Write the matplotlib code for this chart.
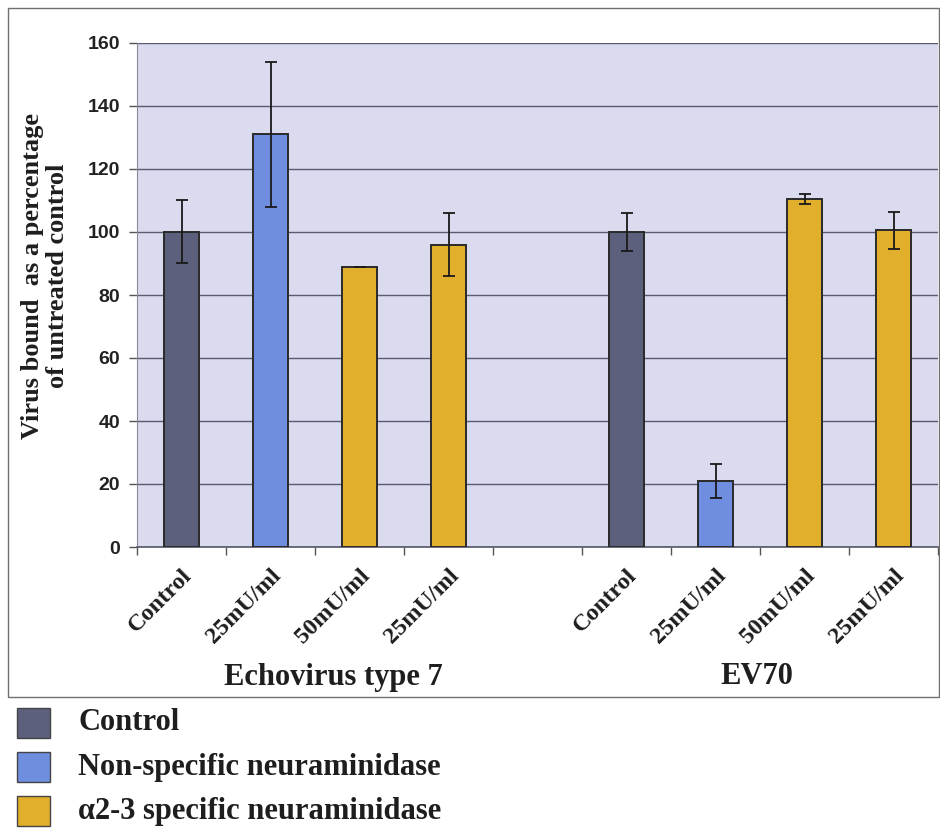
import matplotlib
matplotlib.use("Agg")
import matplotlib.pyplot as plt
from matplotlib.patches import Rectangle
import numpy as np

# Data
groups = ["Echovirus type 7", "EV70"]
categories = ["Control", "25mU/ml", "50mU/ml", "25mU/ml"]
treatments = ["Control", "Non-specific neuraminidase", "\u03b12-3 specific neuraminidase"]
treatment_of_bar = [0, 1, 2, 2]
echo_values = [100, 131, 89, 96]
echo_errors = [10, 23, 0, 10]
ev70_values = [100, 21, 110.5, 100.5]
ev70_errors = [6, 5.3, 1.5, 6]
y_ticks = [0, 20, 40, 60, 80, 100, 120, 140, 160]

colors = ["#5c607d", "#6f8ee0", "#e2af2c"]
bg = "#dadbef"
grid_col = "#5a5a72"

serif = ["Liberation Serif", "DejaVu Serif"]
sans = ["Liberation Sans", "DejaVu Sans"]
txt_col = "#1e1e1e"

W, H = 940, 834
fig = plt.figure(figsize=(W / 100, H / 100), dpi=100)

# outer chart frame
fig.patches.append(Rectangle((8 / W, 137 / H), 931 / W, 689 / H,
                             transform=fig.transFigure, fill=False,
                             edgecolor="#707070", linewidth=1.0))

ax = fig.add_axes([137 / W, 287 / H, 801 / W, 504 / H])
ax.set_facecolor(bg)

slot_pos = [0, 1, 2, 3, 5, 6, 7, 8]
values = echo_values + ev70_values
errors = echo_errors + ev70_errors
bar_cols = [colors[t] for t in treatment_of_bar] * 2
labels = categories * 2

ax.bar(slot_pos, values, width=0.4, color=bar_cols, edgecolor="#2a2a2a",
       linewidth=1.4, zorder=3)
ax.errorbar(slot_pos, values, yerr=errors, fmt="none", ecolor="#1a1a1a",
            elinewidth=1.3, capsize=4.5, capthick=1.3, zorder=4)

ax.set_xlim(-0.5, 8.5)
ax.set_ylim(0, 160)
ax.set_yticks(y_ticks)
ax.set_yticklabels([str(v) for v in y_ticks], fontfamily=sans,
                   fontweight="bold", fontsize=14, color="#222222")
ax.yaxis.grid(True, color=grid_col, linewidth=1.0, zorder=1)
ax.set_axisbelow(True)

ax.set_xticks(slot_pos)
ax.set_xticklabels(labels, rotation=45, ha="right", rotation_mode="anchor",
                   fontfamily=serif, fontweight="bold", fontsize=17.5,
                   color=txt_col)
ax.tick_params(axis="x", length=0, pad=13)
ax.set_xticks(np.arange(-0.5, 9.0, 1.0), minor=True)
ax.tick_params(axis="x", which="minor", length=6, color="#555555", width=1)
ax.tick_params(axis="y", length=6, color="#555555", width=1, pad=6)

for s in ["top", "right"]:
    ax.spines[s].set_visible(False)
ax.spines["left"].set_color("#8a8a9a")
ax.spines["bottom"].set_color("#555566")
ax.spines["bottom"].set_linewidth(1.2)

# y-axis title
fig.text(45 / W, 1 - 276 / H,
         "Virus bound  as a percentage\nof untreated control",
         rotation=90, ha="center", va="center", multialignment="center",
         fontfamily=serif, fontweight="bold", fontsize=19, color=txt_col,
         linespacing=1.08)

# group captions under the category labels
ax.text(333 / W, 1 - 677 / H, groups[0], transform=fig.transFigure,
        ha="center", va="center", fontfamily=serif, fontweight="bold",
        fontsize=22, color=txt_col)
ax.text(757 / W, 1 - 677 / H, groups[1], transform=fig.transFigure,
        ha="center", va="center", fontfamily=serif, fontweight="bold",
        fontsize=22, color=txt_col)

# legend below the frame
leg_y = [723, 767, 811]
for ci, (name, yy) in enumerate(zip(treatments, leg_y)):
    fig.patches.append(Rectangle((17 / W, (H - yy - 15) / H), 33 / W,
                                 30 / H, transform=fig.transFigure,
                                 facecolor=colors[ci], edgecolor="#444444",
                                 linewidth=1.0))
    fig.text(78 / W, (H - yy) / H, name, ha="left", va="center",
             fontfamily=serif, fontweight="bold", fontsize=22,
             color=txt_col)

fig.savefig("out.png", dpi=100, facecolor="white")
